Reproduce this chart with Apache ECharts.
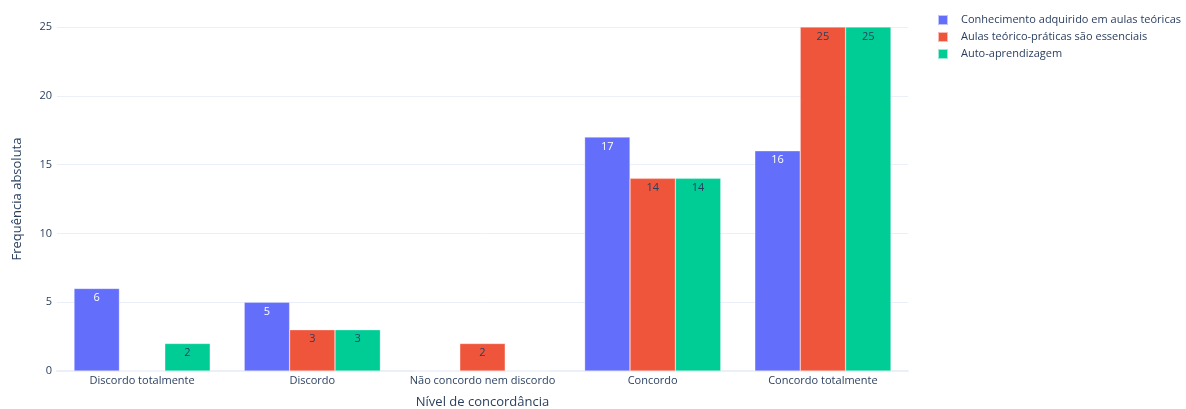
<!DOCTYPE html>
<html>
<head>
<meta charset="utf-8">
<script src="https://cdn.jsdelivr.net/npm/echarts@6/dist/echarts.min.js"></script>
<style>
  html, body { margin: 0; padding: 0; background: #fff; }
  #chart { width: 1186px; height: 409px; }
</style>
</head>
<body>
<div id="chart"></div>
<script>
// Agreement levels on the x axis
const categories = ['Discordo totalmente', 'Discordo', 'Não concordo nem discordo', 'Concordo', 'Concordo totalmente'];

// Series names and absolute frequencies per agreement level
const seriesNames = ['Conhecimento adquirido em aulas teóricas', 'Aulas teórico-práticas são essenciais', 'Auto-aprendizagem'];
const teoricas = [6, 5, 0, 17, 16];
const teoricoPraticas = [0, 3, 2, 14, 25];
const autoAprendizagem = [2, 3, 0, 14, 25];

const yTicks = [0, 5, 10, 15, 20, 25];

const colors = ['#636EFA', '#EF553B', '#00CC96'];
const labelColors = ['#ffffff', '#2a3f5f', '#2a3f5f'];
const font = '"Open Sans", "DejaVu Sans", Arial, sans-serif';
const textColor = '#2a3f5f';

const values = [teoricas, teoricoPraticas, autoAprendizagem];

const chart = echarts.init(document.getElementById('chart'), null, { renderer: 'canvas' });

chart.setOption({
  animation: false,
  color: colors,
  textStyle: { fontFamily: font },
  grid: { left: 57, right: 278, top: 27, bottom: 38, containLabel: false, outerBoundsMode: 'none' },
  legend: {
    orient: 'vertical',
    left: 937,
    top: 13,
    padding: 0,
    itemWidth: 10,
    itemHeight: 10,
    itemGap: 3,
    icon: 'rect',
    textStyle: { fontFamily: font, fontSize: 11, color: textColor, padding: [0, 0, 0, 8], lineHeight: 14 },
    data: seriesNames
  },
  xAxis: {
    type: 'category',
    data: categories,
    name: 'Nível de concordância',
    nameLocation: 'middle',
    nameGap: 25,
    nameTextStyle: { fontFamily: font, fontSize: 13, color: textColor },
    axisLine: { show: true, lineStyle: { color: '#EBF0F8', width: 2 } },
    axisTick: { show: false },
    axisLabel: { fontFamily: font, fontSize: 11, color: textColor, margin: 4, interval: 0 }
  },
  yAxis: {
    type: 'value',
    min: 0,
    max: 25,
    interval: 5,
    name: 'Frequência absoluta',
    nameLocation: 'middle',
    nameGap: 33,
    nameRotate: 90,
    nameTextStyle: { fontFamily: font, fontSize: 13, color: textColor },
    axisLine: { show: false },
    axisTick: { show: false },
    axisLabel: {
      fontFamily: font, fontSize: 11, color: textColor, margin: 5,
      formatter: v => (yTicks.includes(v) ? String(v) : '')
    },
    splitLine: { lineStyle: { color: '#EBF0F8', width: 1 } }
  },
  series: seriesNames.map((name, i) => ({
    name: name,
    type: 'bar',
    data: values[i],
    barGap: '0%',
    barCategoryGap: '20%',
    itemStyle: { color: colors[i], borderColor: 'rgba(255,255,255,0.6)', borderWidth: 0.5 },
    label: {
      show: true,
      position: 'insideTop',
      distance: 4,
      fontFamily: font,
      fontSize: 11,
      color: labelColors[i],
      formatter: p => (p.value === 0 ? '' : String(p.value))
    }
  }))
});
</script>
</body>
</html>
